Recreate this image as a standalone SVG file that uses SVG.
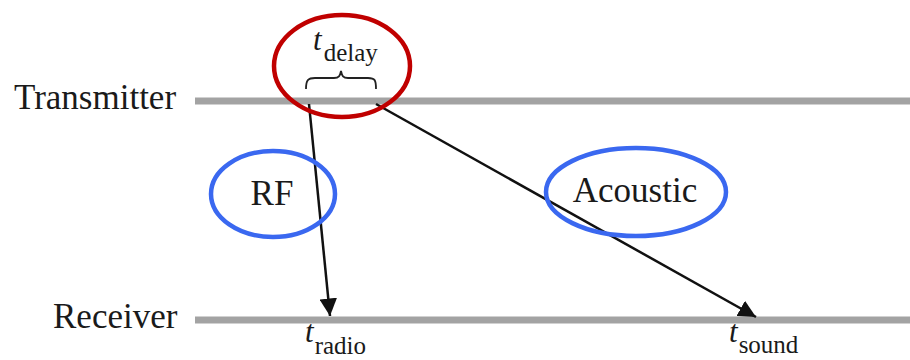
<svg xmlns="http://www.w3.org/2000/svg" width="910" height="360" viewBox="0 0 910 360">
<style>
.lbl{font-family:"Liberation Serif","Times New Roman",serif;font-size:35px;fill:#1a1a1a}
.it{font-family:"Liberation Serif","Times New Roman",serif;font-style:italic;font-size:31px;fill:#1a1a1a}
.sub{font-family:"Liberation Serif","Times New Roman",serif;font-size:25px;fill:#1a1a1a}
.track{stroke:#a3a3a3;stroke-width:7;fill:none}
.arr{stroke:#111;stroke-width:2.5;fill:none;marker-end:url(#ah)}
.blue{fill:none;stroke:#3a68f0;stroke-width:4.5}
.red{fill:none;stroke:#c00000;stroke-width:4.5}
</style>
<defs>
<marker id="ah" viewBox="0 0 10 10" refX="10" refY="5" markerWidth="7" markerHeight="7" markerUnits="strokeWidth" orient="auto">
<path d="M0,0 L10,5 L0,10 z" fill="#111"/>
</marker>
</defs>
<g id="transmitter">
<line class="track" x1="195" y1="101" x2="910" y2="101"/>
<text class="lbl" x="14" y="109">Transmitter</text>
</g>
<g id="receiver">
<line class="track" x1="195" y1="320" x2="910" y2="320"/>
<text class="lbl" x="53" y="328">Receiver</text>
</g>
<g id="connectors">
<line class="arr" x1="309" y1="104" x2="330" y2="316"/>
<line class="arr" x1="376" y1="104" x2="756" y2="317"/>
</g>
<g id="delay">
<path d="M306,89 C306,80 308,78 315,78 L334,78 C339,78 340,76 341,71 C342,76 343,78 348,78 L368,78 C375,78 376,80 376,89" fill="none" stroke="#222" stroke-width="1.8"/>
<text x="313" y="50"><tspan class="it">t</tspan><tspan class="sub" dx="2" dy="11">delay</tspan></text>
<ellipse class="red" cx="342" cy="66" rx="68" ry="51"/>
</g>
<g id="rf">
<ellipse class="blue" cx="273" cy="194" rx="62" ry="43"/>
<text class="lbl" x="272" y="205" text-anchor="middle">RF</text>
</g>
<g id="acoustic">
<ellipse class="blue" cx="636" cy="192" rx="90" ry="44"/>
<text class="lbl" x="635" y="202" text-anchor="middle">Acoustic</text>
</g>
<g id="tradio">
<text x="305" y="342"><tspan class="it">t</tspan><tspan class="sub" dx="1" dy="12">radio</tspan></text>
</g>
<g id="tsound">
<text x="729" y="342"><tspan class="it">t</tspan><tspan class="sub" dx="1" dy="11">sound</tspan></text>
</g>
</svg>
